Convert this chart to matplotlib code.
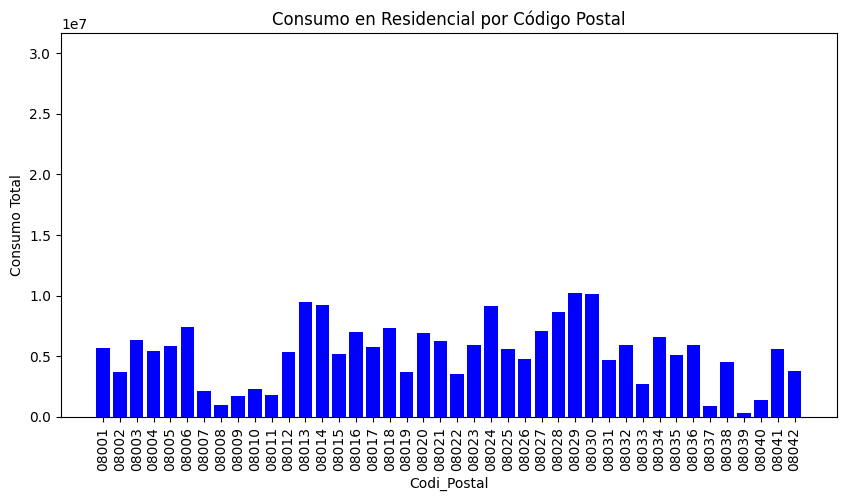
import matplotlib
matplotlib.use("Agg")
import matplotlib.pyplot as plt

codes = ["080%02d" % i for i in range(1, 43)]
values = [5.69e6, 3.71e6, 6.35e6, 5.44e6, 5.85e6, 7.42e6, 2.14e6, 0.99e6, 1.73e6, 2.31e6,
          1.81e6, 5.36e6, 9.48e6, 9.23e6, 5.19e6, 7.01e6, 5.77e6, 7.34e6, 3.71e6, 6.92e6,
          6.26e6, 3.54e6, 5.93e6, 9.15e6, 5.60e6, 4.78e6, 7.09e6, 8.65e6, 10.22e6, 10.14e6,
          4.70e6, 5.93e6, 2.72e6, 6.59e6, 5.11e6, 5.93e6, 0.91e6, 4.53e6, 0.33e6, 1.40e6,
          5.60e6, 3.79e6]

fig = plt.figure(figsize=(8.46, 5.01), dpi=100)
ax = fig.add_axes([61/846, 1-417/501, (836.5-61)/846, (417-33)/501])
ax.bar(codes, values, color="blue")
ax.set_ylim(0, 3.165e7)
ax.set_title("Consumo en Residencial por Código Postal")
ax.set_xlabel("Codi_Postal")
ax.set_ylabel("Consumo Total")
plt.setp(ax.get_xticklabels(), rotation=90)
fig.savefig("out.png", dpi=100)
